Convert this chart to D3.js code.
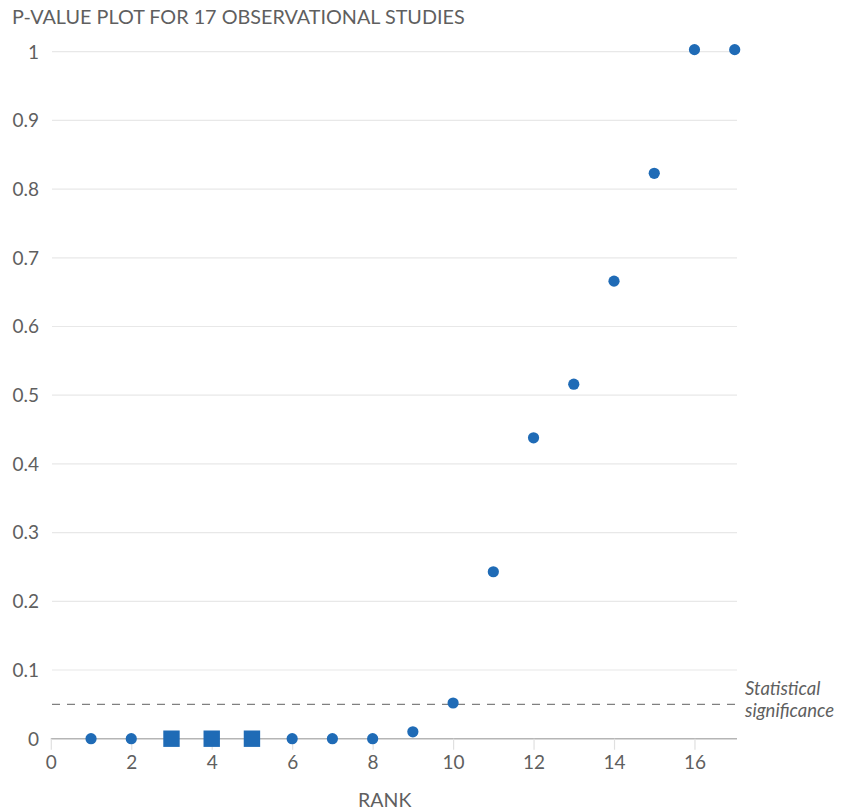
<!DOCTYPE html>
<html><head><meta charset="utf-8">
<script src="https://cdn.jsdelivr.net/npm/d3@7"></script>
<style>
body{margin:0;background:#fff;}
svg text{font-family:Lato,"Open Sans",sans-serif;}
</style></head>
<body><svg id="chart" width="841" height="812"></svg>
<script>
const ranks = [1,2,3,4,5,6,7,8,9,10,11,12,13,14,15,16,17];
const pValues = [0,0,0,0,0,0,0,0,0.01,0.052,0.243,0.438,0.516,0.666,0.823,1.003,1.003];
const markerShape = ["circle","circle","square","square","square","circle","circle","circle","circle","circle","circle","circle","circle","circle","circle","circle","circle"];
const yTicks = [0,0.1,0.2,0.3,0.4,0.5,0.6,0.7,0.8,0.9,1];
const xTicks = [0,2,4,6,8,10,12,14,16];
const threshold = 0.05;
const title = "P-VALUE PLOT FOR 17 OBSERVATIONAL STUDIES";
const xLabel = "RANK";
const noteLines = ["Statistical","significance"];

const svg = d3.select("#chart");
const x = d3.scaleLinear().domain([0,17]).range([50.8,734.7]);
const y = d3.scaleLinear().domain([0,1]).range([738.7,51.7]);
const blue = "#1f6bb6", txt = "#5f5f5f";
const gridEnd = 737;

svg.append("text").attr("x",12).attr("y",24.3).attr("font-size",19.8).attr("fill",txt).text(title);

// grid
svg.append("g").selectAll("line").data(yTicks.filter(d=>d>0)).join("line")
  .attr("x1",52).attr("x2",gridEnd).attr("y1",d=>y(d)).attr("y2",d=>y(d))
  .attr("stroke","#e8e8e8").attr("stroke-width",1.2);

// y labels
svg.append("g").selectAll("text").data(yTicks).join("text")
  .attr("x",39).attr("y",d=>y(d)).attr("dy","0.36em").attr("text-anchor","end")
  .attr("font-size",19).attr("fill",txt).text(d=>d3.format("~g")(d));

// x axis
const xa = svg.append("g").attr("transform",`translate(0,${y(0)})`)
  .call(d3.axisBottom(x).tickValues(xTicks).tickSize(11).tickSizeOuter(0).tickPadding(6).tickFormat(d3.format("d")));
xa.select(".domain").attr("d",`M${x(0)},0H${gridEnd}`).attr("stroke","#b5b5b5").attr("stroke-width",1.5);
xa.selectAll(".tick line").attr("stroke","#e0e0e0").attr("stroke-width",1.2);
xa.selectAll(".tick text").attr("font-size",19).attr("fill",txt).attr("font-family","Lato,sans-serif");

svg.append("text").attr("x",x(8.3)).attr("y",807).attr("text-anchor","middle")
  .attr("font-size",19.5).attr("fill",txt).text(xLabel);

// threshold
svg.append("line").attr("x1",52).attr("x2",gridEnd).attr("y1",y(threshold)).attr("y2",y(threshold))
  .attr("stroke","#808080").attr("stroke-width",1.2).attr("stroke-dasharray","8,7");
svg.append("g").selectAll("text").data(noteLines).join("text")
  .attr("x",745).attr("y",(d,i)=>y(threshold)-9+i*21.5).attr("font-size",18.5).attr("font-style","italic")
  .attr("fill",txt).text(d=>d);

// points
const data = ranks.map((r,i)=>({r,p:pValues[i],s:markerShape[i]}));
svg.append("g").selectAll("circle").data(data.filter(d=>d.s==="circle")).join("circle")
  .attr("cx",d=>x(d.r)).attr("cy",d=>y(d.p)).attr("r",5.6).attr("fill",blue);
svg.append("g").selectAll("rect").data(data.filter(d=>d.s==="square")).join("rect")
  .attr("x",d=>x(d.r)-8.2).attr("y",d=>y(d.p)-8.2).attr("width",16.4).attr("height",16.4).attr("fill",blue);
</script></body></html>
